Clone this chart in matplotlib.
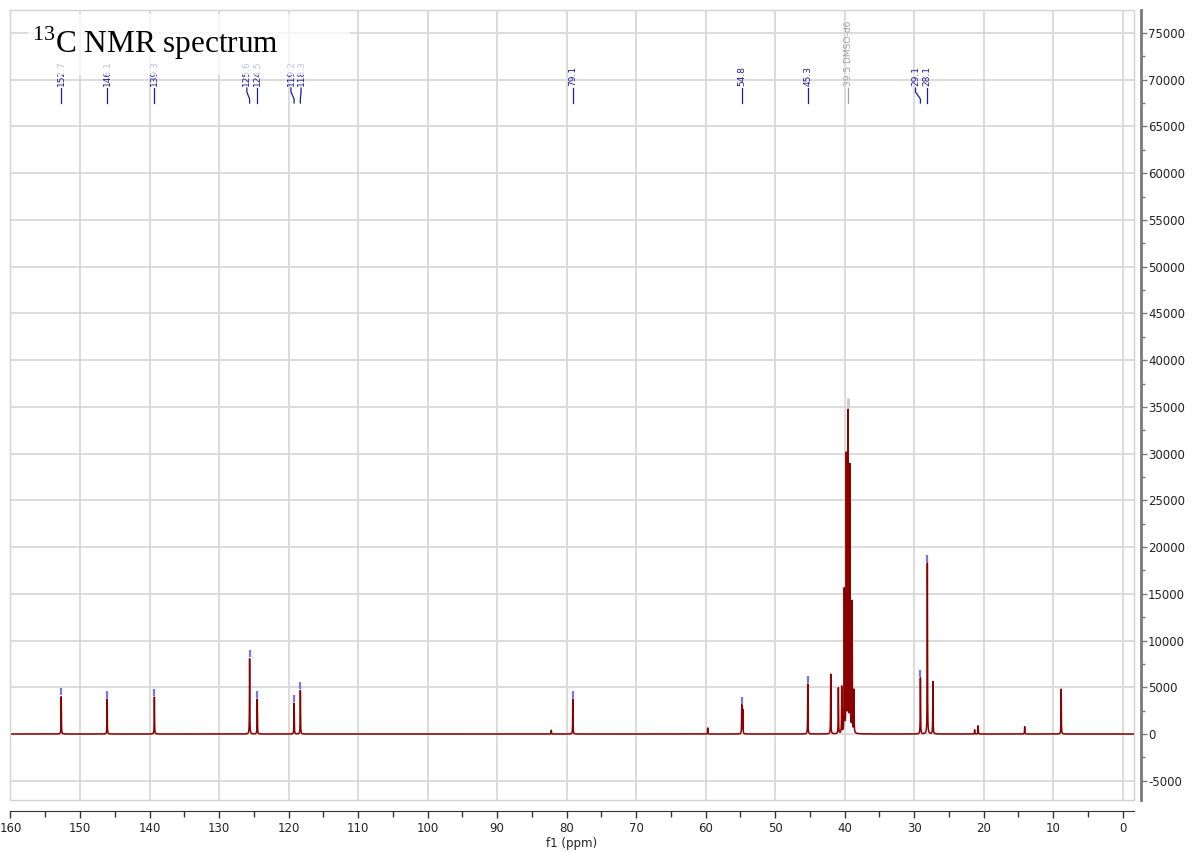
import numpy as np
import matplotlib
matplotlib.use('Agg')
import matplotlib.pyplot as plt
from matplotlib.ticker import MultipleLocator, FuncFormatter
from matplotlib.patches import Rectangle

plt.rcParams['font.family'] = 'DejaVu Sans'
plt.rcParams['mathtext.fontset'] = 'custom'
plt.rcParams['mathtext.rm'] = 'Liberation Serif'

# ── Peak list (ppm, intensity) ───────────────────────────────────────────
peak_ppm = [152.7, 146.1, 139.3, 125.6, 124.5, 119.2, 118.3, 82.2, 79.1,
            59.7, 54.8, 54.65, 45.3, 42.0, 40.9,
            40.42, 40.05, 39.76, 39.5, 39.23, 38.92, 38.66,
            29.1, 28.1, 27.3, 21.3, 20.8, 14.1, 8.85]
peak_height = [4000, 3750, 3950, 8050, 3750, 3300, 4700, 400, 3750,
               650, 3100, 2600, 5350, 6400, 4900,
               5000, 15300, 29800, 34200, 28600, 14000, 4600,
               6000, 18300, 5600, 450, 880, 780, 4800]

# annotated peaks (label value, where the label text sits)
label_vals = [152.7, 146.1, 139.3, 125.6, 124.5, 119.2, 118.3, 79.1, 54.8, 45.3, 29.1, 28.1]
label_pos  = [152.7, 146.1, 139.3, 126.0, 124.5, 119.65, 118.2, 79.1, 54.8, 45.3, 29.8, 28.1]
solvent_val = 39.5
solvent_name = 'DMSO-d6'

# ── Build trace from the peak list ───────────────────────────────────────
ppm = np.linspace(160.1, -1.7, 40000)
hw = 0.025
spec = np.zeros_like(ppm)
for p, h in zip(peak_ppm, peak_height):
    spec += h / (1 + ((ppm - p) / hw) ** 2)

def height_at(v):
    return peak_height[int(np.argmin([abs(p - v) for p in peak_ppm]))]

# ── Figure ───────────────────────────────────────────────────────────────
W, H = 1194, 852
fig = plt.figure(figsize=(W / 100, H / 100), dpi=100)
ax = fig.add_axes([10 / W, 1 - 800 / H, 1124 / W, 790 / H])

ax.plot(ppm, spec, color='#8b0000', lw=1.1, zorder=2)

# integration-style markers above labelled peaks
for v in label_vals:
    h = height_at(v)
    ax.vlines(v, h + 150, h + 900, color='#7878d8', lw=1.6, zorder=3)
ax.vlines(solvent_val, 35000, 35900, color='#c8c8c8', lw=2.0, zorder=1.5)

ax.set_xlim(160.07, -1.63)
ax.set_ylim(-7060, 77460)

# grid
ax.xaxis.set_major_locator(MultipleLocator(10))
ax.xaxis.set_minor_locator(MultipleLocator(5))
ax.yaxis.set_major_locator(MultipleLocator(5000))
ax.yaxis.set_minor_locator(MultipleLocator(2500))
ax.grid(True, which='major', color='#d6d6d6', lw=1.2, zorder=0)
ax.set_axisbelow(True)

# spines / frame
ax.patch.set_edgecolor('#d0d0d0')
ax.patch.set_linewidth(1.0)
ax.spines['top'].set_color('#d6d6d6')
ax.spines['left'].set_color('#d6d6d6')
ax.spines['bottom'].set_position(('outward', 8))
ax.spines['bottom'].set_color('#333333')
ax.spines['right'].set_position(('outward', 5))
ax.spines['right'].set_color('#7a7a7a')
ax.spines['right'].set_linewidth(2.0)

ax.yaxis.tick_right()
ax.tick_params(axis='y', which='major', direction='out', length=4, width=1,
               color='#7a7a7a', labelsize=8.5, labelcolor='#222222', pad=1)
ax.tick_params(axis='y', which='minor', direction='out', length=3, width=1, color='#7a7a7a')
ax.tick_params(axis='x', which='major', direction='out', length=5, width=1,
               color='#333333', labelsize=8.5, labelcolor='#222222', pad=3)
ax.tick_params(axis='x', which='minor', direction='out', length=4, width=1, color='#333333')
ax.xaxis.set_major_formatter(FuncFormatter(lambda v, p: f'{v:.0f}'))
ax.yaxis.set_major_formatter(FuncFormatter(lambda v, p: f'{v:.0f}'))
ax.set_xlabel('f1 (ppm)', fontsize=8.5, color='#222222', labelpad=1)

# peak labels at top
tr = ax.get_xaxis_transform()
y_txt = (800 - 88) / 790
y_a = (800 - 92) / 790
y_b = (800 - 99) / 790
y_c = (800 - 103) / 790
for v, lp in zip(label_vals, label_pos):
    ax.text(lp, y_txt + 0.002, f'{v:.1f}', rotation=90, ha='center', va='bottom',
            fontsize=6.5, color='#1c1c9a', transform=tr, zorder=3)
    ax.plot([lp, lp, v, v], [y_txt, y_a, y_b, y_c], color='#1c1c9a', lw=0.9,
            transform=tr, zorder=3, clip_on=False)
ax.text(solvent_val, y_txt + 0.002, f'{solvent_val:.1f} {solvent_name}', rotation=90,
        ha='center', va='bottom', fontsize=6.5, color='#a0a0a0', transform=tr, zorder=3)
ax.plot([solvent_val, solvent_val], [y_txt, y_c], color='#a0a0a0', lw=0.9,
        transform=tr, zorder=3)

# title with translucent backing
fig.patches.append(Rectangle((28 / W, 1 - 75 / H), 322 / W, 61 / H, transform=fig.transFigure,
                             facecolor='white', alpha=0.72, edgecolor='none', zorder=4))
fig.text(32 / W, 1 - 53 / H, r'$^{13}$C NMR spectrum', fontsize=22.5,
         family='Liberation Serif', va='baseline', ha='left', zorder=5)

fig.savefig('out.png', dpi=100)
